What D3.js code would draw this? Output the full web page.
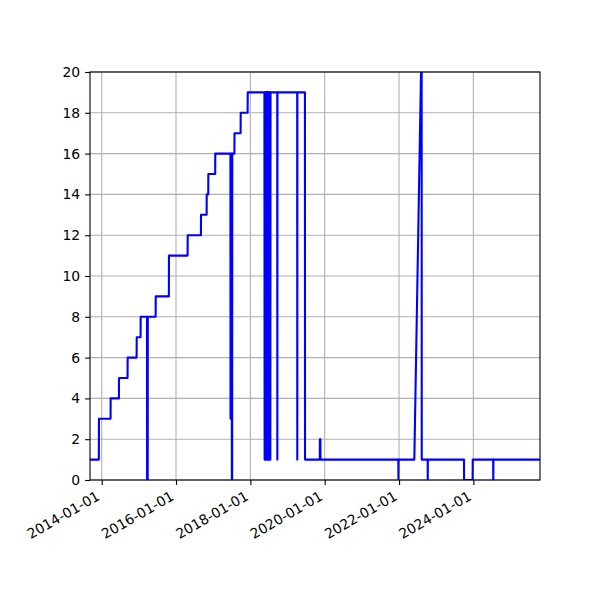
<!DOCTYPE html>
<html>
<head>
<meta charset="utf-8">
<script src="https://d3js.org/d3.v7.min.js"></script>
<style>
  body { margin: 0; background: #fff; }
  text { font-family: "DejaVu Sans", sans-serif; font-size: 13.9px; fill: #000; }
</style>
</head>
<body>
<div id="chart"></div>
<script>
const dates = [
  "2013-09-08", "2013-12-04", "2013-12-05", "2014-03-29", "2014-03-30", "2014-06-19", "2014-06-20",
  "2014-09-12", "2014-09-13", "2014-12-10", "2014-12-11", "2015-01-18", "2015-01-19",
  "2015-03-22", "2015-03-23", "2015-03-29", "2015-03-30", "2015-06-15", "2015-06-16",
  "2015-10-23", "2015-10-24", "2016-04-24", "2016-04-25", "2016-09-02", "2016-09-03",
  "2016-10-28", "2016-10-29", "2016-11-13", "2016-11-14", "2017-01-20", "2017-01-21",
  "2017-06-19", "2017-06-20", "2017-06-21", "2017-07-02", "2017-07-03", "2017-07-06", "2017-07-07",
  "2017-07-28", "2017-07-29", "2017-09-27", "2017-09-28", "2017-12-05", "2017-12-06",
  "2018-05-19", "2018-05-21", "2018-05-23", "2018-05-25", "2018-05-27", "2018-05-29",
  "2018-05-31", "2018-06-02", "2018-06-04", "2018-06-06", "2018-06-08", "2018-06-10",
  "2018-06-12", "2018-06-14", "2018-06-16", "2018-06-18", "2018-06-20", "2018-06-22",
  "2018-06-24", "2018-06-26", "2018-06-28", "2018-06-30", "2018-07-02", "2018-07-04",
  "2018-07-06", "2018-07-08", "2018-07-10", "2018-07-12", "2018-07-14", "2018-07-16",
  "2018-07-18",
  "2018-09-22", "2018-09-23", "2018-09-24", "2019-04-06", "2019-04-07", "2019-04-08",
  "2019-06-21", "2019-06-22", "2019-11-14", "2019-11-15", "2019-11-20", "2019-11-21",
  "2021-12-25", "2021-12-26", "2021-12-27", "2022-05-31", "2022-08-05", "2022-08-11", "2022-08-12",
  "2022-10-09", "2022-10-10", "2022-10-11", "2023-10-01", "2023-10-02", "2023-12-25", "2023-12-26",
  "2024-07-14", "2024-07-15", "2024-07-16", "2025-10-17"
];
const values = [
  1, 1, 3, 3, 4, 4, 5,
  5, 6, 6, 7, 7, 8,
  8, 0, 0, 8, 8, 9,
  9, 11, 11, 12, 12, 13,
  13, 14, 14, 15, 15, 16,
  16, 3, 16, 16, 0, 0, 16,
  16, 17, 17, 18, 18, 19,
  19, 1, 19, 1, 19, 1,
  19, 1, 19, 1, 19, 1,
  19, 1, 19, 1, 19, 1,
  19, 1, 19, 1, 19, 1,
  19, 1, 19, 1, 19, 1,
  19,
  19, 1, 19, 19, 1, 19,
  19, 1, 1, 2, 2, 1,
  1, 0, 1, 1, 20, 20, 1,
  1, 0, 1, 1, 0, 0, 1,
  1, 0, 1, 1
];
const xTickLabels = ["2014-01-01", "2016-01-01", "2018-01-01", "2020-01-01", "2022-01-01", "2024-01-01"];
const yTicks = [0, 2, 4, 6, 8, 10, 12, 14, 16, 18, 20];

const margin = { top: 72, right: 60, bottom: 120, left: 90 };
const width = 600 - margin.left - margin.right;
const height = 600 - margin.top - margin.bottom;
const parseDate = d3.utcParse("%Y-%m-%d");

const data = dates.map((d, i) => ({ date: parseDate(d), value: values[i] }));
const xTicks = xTickLabels.map(parseDate);

const svg = d3.select("#chart").append("svg")
    .attr("width", 600)
    .attr("height", 600)
    .append("g")
    .attr("transform", `translate(${margin.left},${margin.top})`);

const x = d3.scaleUtc().range([0, width]).domain(d3.extent(data, d => d.date));
const y = d3.scaleLinear().range([height, 0]).domain([0, 20]);

// grid
svg.append("g").selectAll("line")
    .data(xTicks)
    .enter().append("line")
    .attr("x1", d => x(d)).attr("x2", d => x(d))
    .attr("y1", 0).attr("y2", height)
    .attr("stroke", "#b0b0b0").attr("stroke-width", 1.1);
svg.append("g").selectAll("line")
    .data(yTicks)
    .enter().append("line")
    .attr("x1", 0).attr("x2", width)
    .attr("y1", d => y(d)).attr("y2", d => y(d))
    .attr("stroke", "#b0b0b0").attr("stroke-width", 1.1);

svg.append("clipPath").attr("id", "clip")
    .append("rect").attr("width", width).attr("height", height);

const line = d3.line().x(d => x(d.date)).y(d => y(d.value));
svg.append("path")
    .datum(data)
    .attr("clip-path", "url(#clip)")
    .attr("fill", "none")
    .attr("stroke", "#0000ff")
    .attr("stroke-width", 2.1)
    .attr("stroke-linejoin", "round")
    .attr("d", line);

// axes
const xAxis = svg.append("g")
    .attr("transform", `translate(0,${height})`)
    .call(d3.axisBottom(x).tickValues(xTicks).tickSize(4.9).tickPadding(4.9)
        .tickFormat((d, i) => xTickLabels[i]));
xAxis.selectAll("text")
    .attr("y", 0)
    .attr("dy", 0)
    .attr("transform", "translate(-1.5,19) rotate(-30)")
    .style("text-anchor", "end");

const yAxis = svg.append("g")
    .call(d3.axisLeft(y).tickValues(yTicks).tickSize(4.9).tickPadding(4.9));

[xAxis, yAxis].forEach(g => {
    g.select(".domain").remove();
    g.selectAll(".tick line").attr("stroke", "#000").attr("stroke-width", 1.1);
    g.selectAll("text").style("font-size", "13.9px").style("font-family", "DejaVu Sans").attr("fill", "#000");
});

svg.append("rect")
    .attr("width", width).attr("height", height)
    .attr("fill", "none").attr("stroke", "#000").attr("stroke-width", 1.1);
</script>
</body>
</html>
